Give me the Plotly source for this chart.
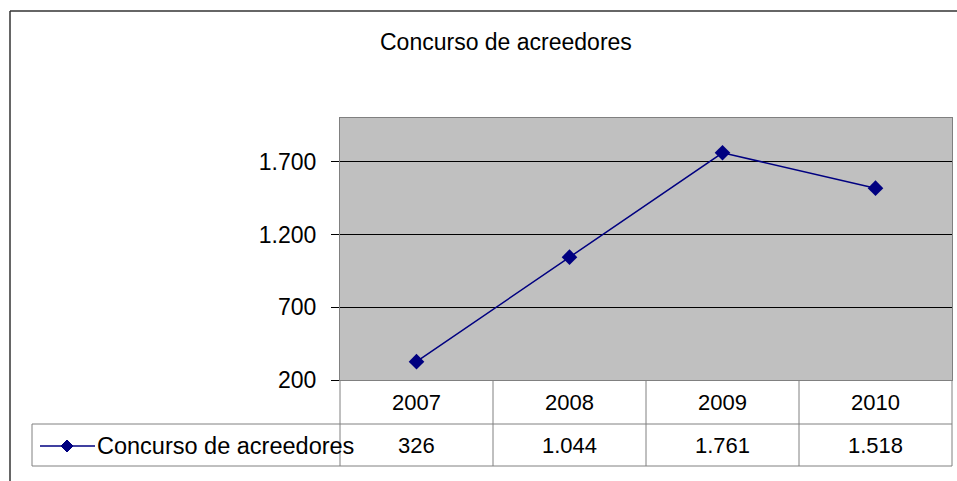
import plotly.graph_objects as go

# data
years = ["2007", "2008", "2009", "2010"]
concursos = [326, 1044, 1761, 1518]
series_name = "Concurso de acreedores"
title_text = "Concurso de acreedores"

W, H = 957, 481
L, R, T, B = 340, 952, 118, 380   # plot area in pixels
NAVY = "#000080"
GRID = "#808080"
FONT = "Liberation Sans, Arial, sans-serif"


def px(x):
    return (x - L) / (R - L)


def py(y):
    return (B - y) / (B - T)


def es(v):
    # spanish thousands separator
    return f"{v:,}".replace(",", ".")


fig = go.Figure()
fig.add_trace(go.Scatter(
    x=years, y=concursos, mode="lines+markers", name=series_name,
    line=dict(color=NAVY, width=1.5),
    marker=dict(symbol="diamond", size=12, color=NAVY),
))

shapes = []
def line(x0, y0, x1, y1, color=GRID, width=1):
    shapes.append(dict(type="line", xref="paper", yref="paper",
                       x0=px(x0), y0=py(y0), x1=px(x1), y1=py(y1),
                       line=dict(color=color, width=width)))

# outer chart border
line(10, 11, 10, 481, "#333333", 1.5)
line(10, 11, 957, 11, "#333333", 1.5)
# data table grid
row1, row2 = 424, 466
line(32, row1, R, row1)
line(32, row2, R, row2)
line(32, row1, 32, row2)
for i in range(len(years) + 1):
    xx = L + i * (R - L) / len(years)
    line(xx, B, xx, row2)
# legend key inside the table
line(40, 446, 95, 446, NAVY, 1.5)
cx, cy, s = 67, 446, 6
shapes.append(dict(type="path", xref="paper", yref="paper",
                   path=f"M {px(cx-s)},{py(cy)} L {px(cx)},{py(cy-s)} L {px(cx+s)},{py(cy)} L {px(cx)},{py(cy+s)} Z",
                   fillcolor=NAVY, line=dict(color=NAVY, width=1)))


def note(text, x, y, xref="paper", xanchor="center", size=22):
    return dict(text=text, xref=xref, yref="paper", x=x, y=y,
                xanchor=xanchor, yanchor="middle", showarrow=False,
                font=dict(size=size, color="black"))


annotations = [
    note(title_text, px(506), py(42), size=23),
    note(series_name, px(95), py(446), xanchor="left", size=23.5),
]
for i, (yr, v) in enumerate(zip(years, concursos)):
    annotations.append(note(yr, i, py(402), xref="x"))
    annotations.append(note(es(v), i, py(446), xref="x"))

fig.update_layout(
    width=W, height=H,
    margin=dict(l=L, r=W - R, t=T, b=H - B),
    paper_bgcolor="white", plot_bgcolor="#C0C0C0",
    font=dict(family=FONT, size=23, color="black"),
    separators=",.",
    showlegend=False,
    shapes=shapes, annotations=annotations,
    xaxis=dict(type="category", range=[-0.5, len(years) - 0.5],
               showticklabels=False, showgrid=False, zeroline=False,
               showline=True, linecolor=GRID, mirror=True, linewidth=1),
    yaxis=dict(range=[200, 2000], tick0=200, dtick=500, tickformat=",d",
               showgrid=True, gridcolor="black", gridwidth=1, zeroline=False,
               ticks="outside", ticklen=8, tickcolor="black",
               ticklabelstandoff=10,
               showline=True, linecolor=GRID, mirror=True, linewidth=1),
)
# bottom axis line drawn black
line(L, B, R, B, "black", 1)

fig.write_html("out.html", config={"displayModeBar": False},
               post_script="document.body.style.margin='0';")
